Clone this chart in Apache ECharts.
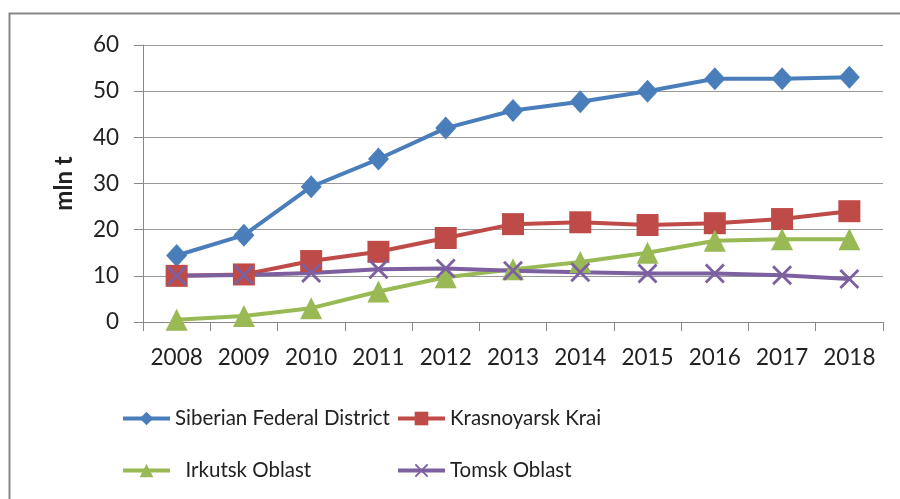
<!DOCTYPE html>
<html>
<head>
<meta charset="utf-8">
<script src="https://cdn.jsdelivr.net/npm/echarts@6/dist/echarts.min.js"></script>
<style>
  html, body { margin: 0; padding: 0; background: #fff; }
  #main { width: 900px; height: 499px; }
</style>
</head>
<body>
<div id="main"></div>
<script>
var years = ["2008", "2009", "2010", "2011", "2012", "2013", "2014", "2015", "2016", "2017", "2018"];
var siberian = [14.4, 18.8, 29.3, 35.3, 42.0, 45.8, 47.7, 50.0, 52.7, 52.7, 53.0];
var krasnoyarsk = [10.0, 10.3, 13.2, 15.2, 18.2, 21.2, 21.6, 21.0, 21.4, 22.3, 24.0];
var irkutsk = [0.5, 1.3, 3.0, 6.6, 9.7, 11.4, 13.0, 15.0, 17.6, 17.9, 17.9];
var tomsk = [10.0, 10.2, 10.6, 11.4, 11.6, 11.1, 10.8, 10.5, 10.5, 10.1, 9.3];
var names = ["Siberian Federal District", "Krasnoyarsk Krai", "Irkutsk Oblast", "Tomsk Oblast"];

var chart = echarts.init(document.getElementById("main"));
var font = "Lato, 'Liberation Sans', sans-serif";
var crossPath = "path://M0,1L1,0L5,4L9,0L10,1L6,5L10,9L9,10L5,6L1,10L0,9L4,5Z";

function legendItem(name, left, top, fmt) {
  return {
    data: [name],
    left: left,
    top: top,
    padding: 0,
    itemWidth: 47,
    itemHeight: 17,
    itemGap: 0,
    lineStyle: { width: 4 },
    formatter: fmt || "{name}",
    textStyle: { fontSize: 20.5, color: "#222", fontFamily: font },
    selectedMode: false
  };
}

function lineSeries(name, data, color, symbol, size) {
  return {
    name: name,
    type: "line",
    data: data,
    symbol: symbol,
    symbolSize: size,
    showSymbol: true,
    lineStyle: { color: color, width: 4 },
    itemStyle: { color: color },
    animation: false
  };
}

var option = {
  animation: false,
  graphic: [{
    type: "rect",
    shape: { x: 9.5, y: 13.5, width: 900, height: 500 },
    style: { fill: null, stroke: "#888", lineWidth: 2 }
  }],
  grid: { left: 143, right: 17, top: 45, bottom: 177 },
  legend: [
    legendItem(names[0], 121, 408),
    legendItem(names[1], 396, 408),
    legendItem(names[2], 121, 460, "  {name}"),
    legendItem(names[3], 396, 460)
  ],
  xAxis: {
    type: "category",
    data: years,
    boundaryGap: true,
    axisLine: { lineStyle: { color: "#888", width: 1 } },
    axisTick: { show: true, length: 9, lineStyle: { color: "#888" } },
    axisLabel: { interval: 0, hideOverlap: false, fontSize: 22.5, color: "#222", fontFamily: font, margin: 24 }
  },
  yAxis: {
    type: "value",
    min: 0,
    max: 60,
    interval: 10,
    name: "mln t",
    nameLocation: "middle",
    nameRotate: 90,
    nameGap: 67,
    nameTextStyle: { fontSize: 24, fontWeight: "bold", color: "#222", fontFamily: font },
    axisLine: { show: true, lineStyle: { color: "#888", width: 1 } },
    axisTick: { show: true, length: 9, lineStyle: { color: "#888" } },
    axisLabel: { fontSize: 22.5, color: "#222", fontFamily: font, margin: 24 },
    splitLine: { lineStyle: { color: "#999", width: 1 } }
  },
  series: [
    lineSeries(names[0], siberian, "#4a7ebb", "diamond", [21, 23]),
    lineSeries(names[1], krasnoyarsk, "#be4b48", "rect", 22),
    lineSeries(names[2], irkutsk, "#98b954", "triangle", 22),
    lineSeries(names[3], tomsk, "#7d60a0", crossPath, 20)
  ]
};
chart.setOption(option);
</script>
</body>
</html>
